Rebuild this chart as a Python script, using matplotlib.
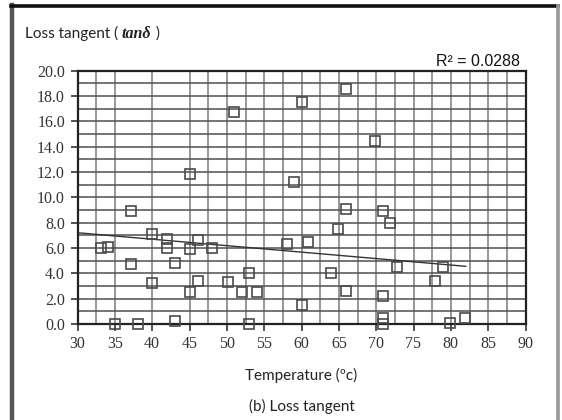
import numpy as np
import matplotlib
matplotlib.use("Agg")
import matplotlib.pyplot as plt
from matplotlib.lines import Line2D

# Temperature (degC) and loss tangent (tan delta) samples
temperature = [33.2, 34.1, 35.0, 37.1, 37.1, 38.1, 40.0, 40.0, 42.0, 42.0,
               43.0, 43.1, 45.0, 45.0, 45.0, 46.1, 46.1, 48.0, 50.1, 51.0,
               52.0, 53.0, 53.0, 54.0, 58.0, 59.0, 60.0, 60.0, 60.9, 63.9,
               64.9, 65.9, 65.9, 65.9, 69.9, 70.9, 71.9, 72.8, 70.9, 70.9,
               70.9, 77.9, 79.0, 79.9, 81.9]
loss_tangent = [6.0, 6.1, 0.0, 8.9, 4.7, 0.0, 7.1, 3.2, 6.7, 6.0,
                4.85, 0.2, 11.8, 5.9, 2.5, 6.6, 3.4, 6.0, 3.3, 16.7,
                2.5, 4.0, 0.0, 2.5, 6.3, 11.2, 17.5, 1.5, 6.5, 4.0,
                7.5, 18.55, 9.1, 2.6, 14.4, 8.9, 8.0, 4.5, 2.2, 0.5,
                0.0, 3.4, 4.5, 0.1, 0.5]

# linear trend (start / end of the fitted line)
trend_x = [30.0, 82.0]
trend_y = [7.2, 4.55]

x_ticks = [30, 35, 40, 45, 50, 55, 60, 65, 70, 75, 80, 85, 90]
y_ticks = [0, 2, 4, 6, 8, 10, 12, 14, 16, 18, 20]
y_tick_labels = [f"{v:.1f}" for v in y_ticks]
r2_label = "R² = 0.0288"

W, H = 562, 420
fig = plt.figure(figsize=(W / 100, H / 100), dpi=100)
fig.patch.set_facecolor("white")

ax = fig.add_axes([77.5 / W, 1 - 324 / H, 448 / W, (324 - 70.5) / H])
ax.set_xlim(30, 90)
ax.set_ylim(0, 20)

# grid: vertical every 2.5 degC, horizontal every 1 unit
for gx in np.arange(32.5, 90, 2.5):
    if gx in (37.5, 42.5):
        continue
    ax.axvline(gx, color="#8f8f8f", lw=1.3, zorder=1)
for gy in range(1, 20):
    ax.axhline(gy, color="#505050", lw=1.1, zorder=1)

ax.plot(trend_x, trend_y, color="#333333", lw=1.0, zorder=2)

ax.plot(temperature, loss_tangent, linestyle="none", marker="s",
        markersize=7.5, markerfacecolor="none", markeredgecolor="#4a4a4a",
        markeredgewidth=1.2, zorder=3, clip_on=False)

for side in ("left", "right", "top", "bottom"):
    ax.spines[side].set_color("#222222")
    ax.spines[side].set_linewidth(1.6)

serif = "Liberation Serif"
ax.set_xticks(x_ticks)
ax.set_xticklabels([str(t) for t in x_ticks], fontfamily=serif, fontsize=11.5,
                   color="#333333")
ax.set_yticks(y_ticks)
ax.set_yticklabels(y_tick_labels, fontfamily=serif, fontsize=11.5, color="#333333")
ax.tick_params(axis="both", direction="out", length=5, width=1.2,
               color="#333333")
ax.tick_params(axis="x", pad=4)
ax.tick_params(axis="y", pad=4)

sans = "Lato"
base = 1 - 38 / H
t1 = fig.text(25 / W, base, "Loss tangent ( ", fontfamily=sans,
              fontsize=11, color="#222222", va="baseline", ha="left")
t2 = fig.text(0, base, "tanδ", fontfamily=serif, fontsize=11.5, fontweight="bold",
              fontstyle="italic", color="#222222", va="baseline", ha="left")
t3 = fig.text(0, base, " )", fontfamily=sans, fontsize=11, color="#222222",
              va="baseline", ha="left")
fig.canvas.draw()
r = fig.canvas.get_renderer()
bb1 = t1.get_window_extent(r)
t2.set_x(bb1.x1 / W)
fig.canvas.draw()
bb2 = t2.get_window_extent(r)
t3.set_x(bb2.x1 / W)

fig.text(520 / W, 1 - 62 / H, r2_label, fontfamily="Liberation Sans",
         fontsize=11.5, color="#111111", ha="right", va="center")
fig.text(301.5 / W, 1 - 375 / H, "Temperature (ºc)", fontfamily=sans,
         fontsize=11, color="#222222", ha="center", va="center")
fig.text(301.5 / W, 1 - 406 / H, "(b) Loss tangent", fontfamily=sans,
         fontsize=11, color="#222222", ha="center", va="center")

# frame around the figure panel
fig.add_artist(Line2D([12 / W, 12 / W], [0, 1 - 5 / H], transform=fig.transFigure,
                      color="#555555", lw=3.2))
fig.add_artist(Line2D([10.5 / W, 558 / W], [1 - 5.5 / H, 1 - 5.5 / H],
                      transform=fig.transFigure, color="#111111", lw=2.6))
fig.add_artist(Line2D([558 / W, 558 / W], [0, 1 - 5.5 / H], transform=fig.transFigure,
                      color="#999999", lw=2.6))

fig.savefig("out.png", dpi=100, facecolor="white")
